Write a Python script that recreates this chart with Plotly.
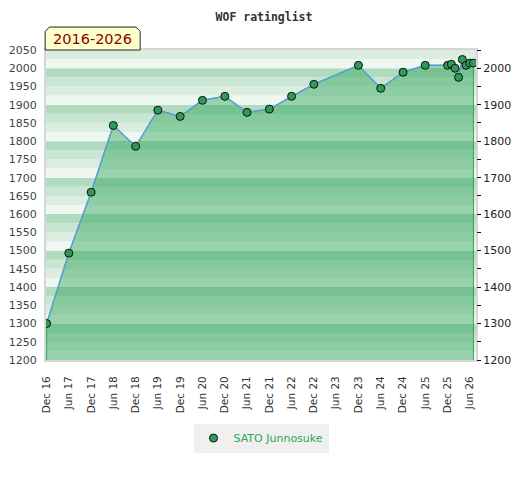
import plotly.graph_objects as go

# ratings
dates = [
    "2016-12-01", "2017-06-01", "2017-12-01", "2018-06-01", "2018-12-01",
    "2019-06-01", "2019-12-01", "2020-06-01", "2020-12-01", "2021-06-01",
    "2021-12-01", "2022-06-01", "2022-12-01", "2023-12-01", "2024-06-01",
    "2024-12-01", "2025-06-01", "2025-12-01", "2026-01-01", "2026-02-01",
    "2026-03-01", "2026-04-01", "2026-05-01", "2026-06-01", "2026-07-01",
]
ratings = [
    1300, 1493, 1660, 1843, 1786,
    1885, 1868, 1912, 1923, 1879,
    1888, 1923, 1956, 2008, 1945,
    1989, 2008, 2008, 2011, 2000,
    1975, 2024, 2008, 2014, 2014,
]
player = "SATO Junnosuke"
period = "2016-2026"

tick_dates = ["2016-12-01", "2017-06-01", "2017-12-01", "2018-06-01", "2018-12-01",
              "2019-06-01", "2019-12-01", "2020-06-01", "2020-12-01", "2021-06-01",
              "2021-12-01", "2022-06-01", "2022-12-01", "2023-06-01", "2023-12-01",
              "2024-06-01", "2024-12-01", "2025-06-01", "2025-12-01", "2026-06-01"]
tick_labels = ["Dec 16", "Jun 17", "Dec 17", "Jun 18", "Dec 18",
               "Jun 19", "Dec 19", "Jun 20", "Dec 20", "Jun 21",
               "Dec 21", "Jun 22", "Dec 22", "Jun 23", "Dec 23",
               "Jun 24", "Dec 24", "Jun 25", "Dec 25", "Jun 26"]

y_min, y_max, band = 1200, 2050, 25
# four stripes per 100 points, from x00 upwards
bg_colors = ["#eff7f1", "#dbede1", "#c9e6d3", "#b1dbbf"]
fill_colors = ["#99d3ae", "#8ecda4", "#84c99b", "#76c291"]

n_bands = (y_max - y_min) // band
shapes = []
scale = []
for i in range(n_bands):
    lo = y_min + i * band
    k = (lo // band) % 4
    shapes.append(dict(type="rect", xref="paper", yref="y", x0=0, x1=1,
                       y0=lo, y1=lo + band, fillcolor=bg_colors[k],
                       line=dict(width=0), layer="below"))
    scale.append([i / n_bands, fill_colors[k]])
    scale.append([(i + 1) / n_bands, fill_colors[k]])

# tab label above the plot (paper coords)
shapes.append(dict(type="path", xref="paper", yref="paper",
                   path="M -0.002,1 L -0.002,1.06 L 0.008,1.074 L 0.209,1.074 "
                        "L 0.219,1.06 L 0.219,1 Z",
                   fillcolor="#ffffcc", line=dict(color="#222222", width=1)))

fig = go.Figure()

# filled area with striped gradient
fig.add_trace(go.Scatter(
    x=[dates[0]] + dates + [dates[-1]],
    y=[y_min] + ratings + [y_min],
    mode="lines", fill="toself",
    fillgradient=dict(type="vertical", colorscale=scale, start=y_min, stop=y_max),
    line=dict(color="#3f9d5e", width=1),
    hoverinfo="skip", showlegend=False,
))

fig.add_trace(go.Scatter(
    x=dates, y=ratings, mode="lines",
    line=dict(color="#5b9fd6", width=1.5),
    hoverinfo="skip", showlegend=False,
))

fig.add_trace(go.Scatter(
    x=dates, y=ratings, name=player, mode="markers",
    marker=dict(size=8, color="#2f9a55", line=dict(color="#111111", width=1)),
))

# invisible copy so the right axis is drawn
fig.add_trace(go.Scatter(
    x=dates, y=ratings, yaxis="y2", mode="lines",
    line=dict(width=0), hoverinfo="skip", showlegend=False, opacity=0,
))

# the page adds an 8px body margin, so the figure is 512x472
fig.update_layout(
    width=512, height=472,
    margin=dict(l=38, r=44, t=42, b=120, autoexpand=False),
    paper_bgcolor="white", plot_bgcolor="white",
    title=dict(text="<b>WOF ratinglist</b>", x=0.5, y=0.982, xanchor="center",
               yanchor="middle",
               font=dict(family="DejaVu Sans Mono", size=11.5, color="#333333")),
    shapes=shapes,
    annotations=[dict(text=period, xref="paper", yref="paper", x=0.1085, y=1.037,
                      xanchor="center", yanchor="middle", showarrow=False,
                      font=dict(family="DejaVu Sans", size=14.5, color="#8b0000"))],
    xaxis=dict(
        range=["2016-11-26", "2026-07-22"], automargin=False,
        tickvals=tick_dates, ticktext=tick_labels, tickangle=-90,
        tickfont=dict(family="DejaVu Sans", size=10.5, color="#333333"),
        showgrid=False, zeroline=False,
        showline=True, linecolor="#d6d6d6", linewidth=2, mirror=True,
        ticks="", ticklabelstandoff=10,
    ),
    yaxis=dict(
        range=[y_min, y_max], dtick=50, tick0=1200, automargin=False,
        tickfont=dict(family="DejaVu Sans", size=11, color="#444444"),
        showgrid=False, zeroline=False,
        showline=True, linecolor="#d6d6d6", linewidth=2, mirror=True,
        ticks="", ticklabelstandoff=5,
    ),
    yaxis2=dict(
        range=[y_min, y_max], dtick=100, tick0=1200, overlaying="y", side="right",
        automargin=False,
        tickfont=dict(family="DejaVu Sans", size=11, color="#222222"),
        showgrid=False, zeroline=False, showline=False,
        ticks="outside", ticklen=4, tickcolor="#111111",
        minor=dict(dtick=50, ticks="outside", ticklen=4, tickcolor="#111111"),
    ),
    legend=dict(orientation="h", x=0.5, xanchor="center", y=-0.205, yanchor="top",
                bgcolor="#f0f0f0", itemwidth=30,
                font=dict(family="DejaVu Sans", size=11, color="#2ea65a")),
    showlegend=True,
)

fig.write_html("out.html")
